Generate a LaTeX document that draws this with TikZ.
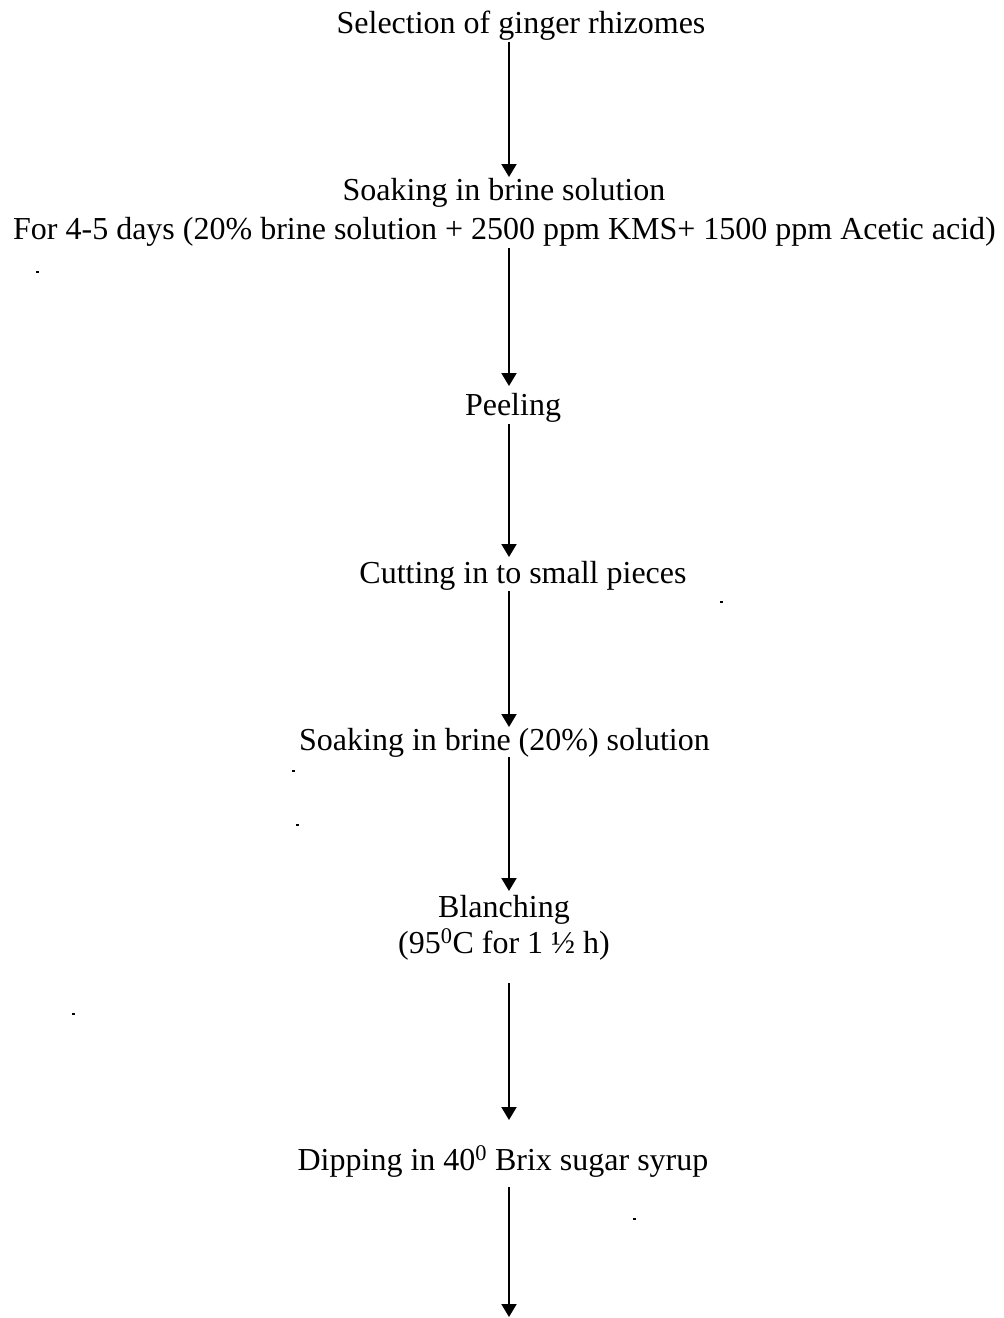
\documentclass[tikz,border=0pt]{standalone}
\usepackage{fontspec}
\setmainfont{Liberation Serif}
\usetikzlibrary{arrows.meta}
\begin{document}
\begin{tikzpicture}[x=1pt,y=-1pt,
  lbl/.style={anchor=base,inner sep=0pt,outer sep=0pt,text height=22pt,text depth=7pt,
    font=\fontsize{32}{37}\selectfont},
  flow/.style={line width=2pt,-{Triangle[width=15pt,length=13pt]}},
  speck/.style={fill=black}]
\useasboundingbox (0,0) rectangle (1004,1318);
\coordinate (ax) at (509,0);
\node[lbl] (sel)    at (521,33)   {Selection of ginger rhizomes};
\node[lbl] (soak1a) at (504,200)  {Soaking in brine solution};
\node[lbl] (soak1b) at (504.5,239){For 4-5 days (20\% brine solution + 2500 ppm KMS+ 1500 ppm Acetic acid)};
\node[lbl] (peel)   at (513,415)  {Peeling};
\node[lbl] (cut)    at (523,583)  {Cutting in to small pieces};
\node[lbl] (soak2)  at (504.5,750){Soaking in brine (20\%) solution};
\node[lbl] (bl1)    at (504,917)  {Blanching};
\node[lbl] (bl2)    at (504,953)  {(95\textsuperscript{0}C for 1 ½ h)};
\node[lbl] (dip)    at (503,1170) {Dipping in 40\textsuperscript{0} Brix sugar syrup};
\coordinate (endpt) at (509,1317);
\draw[flow,shorten <=2pt,shorten >=1pt]   (sel.south -| ax)    -- (soak1a.north -| ax);
\draw[flow,shorten <=2pt,shorten >=7pt]   (soak1b.south -| ax) -- (peel.north -| ax);
\draw[flow,shorten <=2pt,shorten >=4pt]   (peel.south -| ax)   -- (cut.north -| ax);
\draw[flow,shorten <=1pt,shorten >=1pt]   (cut.south -| ax)    -- (soak2.north -| ax);
\draw[flow,shorten >=4pt]                 (soak2.south -| ax)  -- (bl1.north -| ax);
\draw[flow,shorten <=23pt,shorten >=28pt] (bl2.south -| ax)    -- (dip.north -| ax);
\draw[flow,shorten <=10pt]                (dip.south -| ax)    -- (endpt);
% scanning specks
\foreach \px/\py in {37/272,293/771,297/825,73/1014,634/1219,721/602}
  \fill[speck] (\px-1.5,\py-1) rectangle (\px+1.5,\py+1);
\end{tikzpicture}
\end{document}
